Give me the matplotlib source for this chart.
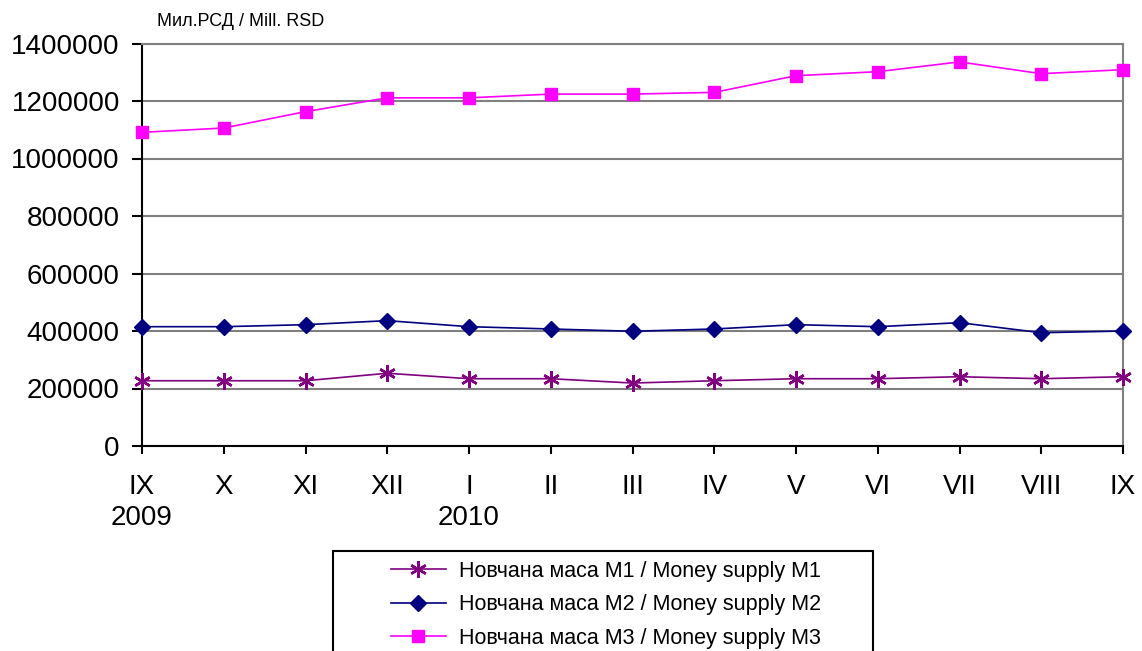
import numpy as np
import matplotlib
matplotlib.use("Agg")
import matplotlib.pyplot as plt
from matplotlib.patches import Rectangle
from matplotlib.ticker import FuncFormatter

plt.rcParams['font.family'] = ['Liberation Sans', 'DejaVu Sans']

# месеци IX 2009 - IX 2010
months = ['IX\n2009', 'X', 'XI', 'XII', 'I\n2010', 'II', 'III', 'IV',
          'V', 'VI', 'VII', 'VIII', 'IX']
m1 = [227000, 227000, 227000, 253000, 234000, 234000, 219000,
      227000, 234000, 234000, 241000, 234000, 241000]
m2 = [415000, 415000, 422000, 436000, 415000, 407000, 399000,
      407000, 422000, 415000, 429000, 394000, 400000]
m3 = [1091000, 1106000, 1163000, 1211000, 1211000, 1224000, 1224000,
      1230000, 1288000, 1302000, 1336000, 1295000, 1309000]
labels = ['Новчана маса M1 / Money supply M1',
          'Новчана маса M2 / Money supply M2',
          'Новчана маса M3 / Money supply M3']

W, H = 1142, 651
fig = plt.figure(figsize=(W / 100, H / 100), dpi=100)
ax = fig.add_axes([142 / W, 1 - 446 / H, (1123 - 142) / W, (446 - 43.5) / H])

x = np.arange(len(months))
ax.plot(x, m1, color='#800080', lw=1.2, marker=(6, 2, 0), ms=12,
        mew=1.8, label=labels[0], clip_on=False, zorder=3)
ax.plot(x, m2, color='#000080', lw=1.2, marker='D', ms=8.5,
        label=labels[1], clip_on=False, zorder=3)
ax.plot(x, m3, color='#FF00FF', lw=1.2, marker='s', ms=8.5,
        label=labels[2], clip_on=False, zorder=3)

ax.set_xlim(0, 12)
ax.set_ylim(0, 1400000)
ax.set_yticks(np.arange(0, 1400001, 200000))
ax.yaxis.set_major_formatter(FuncFormatter(lambda v, p: '%d' % v))
ax.set_xticks(x)
ax.set_xticklabels(months, fontsize=20, linespacing=1.25)
ax.tick_params(axis='y', labelsize=20, direction='out', length=7, width=1.5, pad=9)
ax.tick_params(axis='x', direction='out', length=6, width=1.5, pad=14)
for lab in ax.get_xticklabels():
    lab.set_verticalalignment('top')

ax.grid(axis='y', color='#808080', lw=1.5)
ax.set_axisbelow(True)
ax.spines['left'].set_linewidth(1.5)
ax.spines['bottom'].set_linewidth(1.5)
ax.spines['right'].set_color('#808080')
ax.spines['right'].set_linewidth(1.5)
ax.spines['top'].set_color('#808080')
ax.spines['top'].set_linewidth(1.5)

fig.text(157 / W, 1 - 22 / H, 'Мил.РСД / Mill. RSD', fontsize=13, va='center')

# рамка легенде
fig.patches.append(Rectangle((333 / W, 1 - 665 / H), (873 - 333) / W, (665 - 551) / H,
                             transform=fig.transFigure, fill=False,
                             edgecolor='black', lw=1.5))
fig.legend(loc='upper left', bbox_to_anchor=(391 / W, 1 - 561 / H),
           frameon=False, fontsize=15.5, borderpad=0, borderaxespad=0,
           handlelength=2.55, handletextpad=0.6, labelspacing=0.57)

fig.savefig('out.png', dpi=100)
